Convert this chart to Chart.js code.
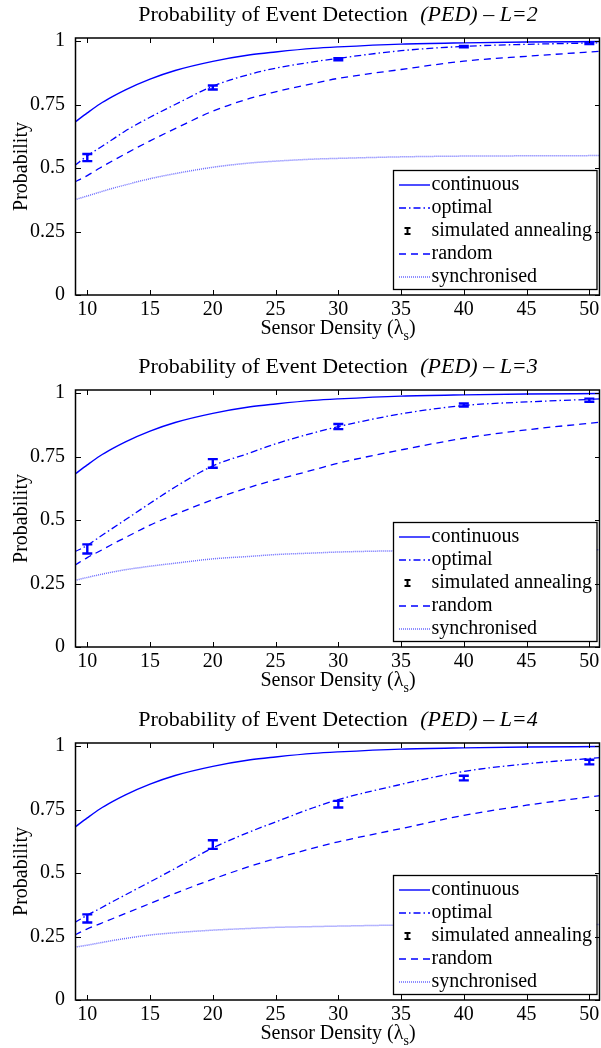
<!DOCTYPE html>
<html>
<head>
<meta charset="utf-8">
<script src="https://cdn.jsdelivr.net/npm/chart.js@4.4.1/dist/chart.umd.min.js"></script>
<style>
    html, body { margin: 0; padding: 0; background: #fff; overflow: hidden; }
    body { width: 601px; height: 1048px; position: relative; font-family: 'Liberation Serif', 'Times New Roman', serif; color: #000; }
    .panel { position: absolute; left: 0; width: 601px; }
    .panel canvas { position: absolute; left: 0; top: 0; }
    .titulo { position: absolute; left: 76px; width: 524px; top: 3px; text-align: center; font-size: 22px; line-height: 22px; white-space: nowrap; }
    .titulo i { margin-left: 7px; }
    .xlabel { position: absolute; left: 76px; width: 524px; top: 317px; text-align: center; font-size: 20px; line-height: 20px; white-space: nowrap; }
    .xlabel sub { font-size: 14px; vertical-align: -6px; line-height: 0; }
</style>
</head>
<body>

<div class="panel" style="top:0px;height:352px">
    <canvas id="chartL2" width="601" height="352"></canvas>
    <div class="titulo">Probability of Event Detection <i>(PED) – L=2</i></div>
    <div class="xlabel">Sensor Density (λ<sub>s</sub>)</div>
</div>
<div class="panel" style="top:352px;height:352px">
    <canvas id="chartL3" width="601" height="352"></canvas>
    <div class="titulo">Probability of Event Detection <i>(PED) – L=3</i></div>
    <div class="xlabel">Sensor Density (λ<sub>s</sub>)</div>
</div>
<div class="panel" style="top:705px;height:343px">
    <canvas id="chartL4" width="601" height="343"></canvas>
    <div class="titulo">Probability of Event Detection <i>(PED) – L=4</i></div>
    <div class="xlabel">Sensor Density (λ<sub>s</sub>)</div>
</div>

<script>
// sensor density where the curves were read
const density = [9, 10, 11, 12, 13, 15, 17, 20, 23, 25, 28, 30, 35, 40, 45, 51];
const continuous = [0.68, 0.717, 0.752, 0.781, 0.807, 0.85, 0.884, 0.92, 0.946, 0.957, 0.971, 0.977, 0.988, 0.993, 0.996, 0.998];

const optimalL2 = [0.51, 0.548, 0.58, 0.612, 0.645, 0.70, 0.75, 0.822, 0.87, 0.893, 0.918, 0.932, 0.962, 0.979, 0.987, 0.993];
const randomL2 = [0.445, 0.47, 0.50, 0.528, 0.555, 0.607, 0.655, 0.724, 0.775, 0.80, 0.833, 0.853, 0.888, 0.921, 0.94, 0.96];
const syncL2 = [0.375, 0.39, 0.405, 0.42, 0.433, 0.458, 0.478, 0.503, 0.52, 0.527, 0.535, 0.538, 0.544, 0.547, 0.548, 0.549];

const optimalL3 = [0.375, 0.40, 0.434, 0.467, 0.50, 0.566, 0.63, 0.713, 0.765, 0.80, 0.843, 0.868, 0.918, 0.951, 0.965, 0.977];
const randomL3 = [0.322, 0.352, 0.378, 0.405, 0.43, 0.48, 0.522, 0.58, 0.63, 0.658, 0.697, 0.724, 0.776, 0.822, 0.855, 0.886];
const syncL3 = [0.262, 0.274, 0.285, 0.295, 0.304, 0.318, 0.33, 0.347, 0.357, 0.364, 0.37, 0.374, 0.379, 0.381, 0.382, 0.383];

const optimalL4 = [0.305, 0.334, 0.36, 0.387, 0.413, 0.465, 0.518, 0.599, 0.663, 0.701, 0.757, 0.789, 0.849, 0.90, 0.93, 0.955];
const randomL4 = [0.256, 0.28, 0.30, 0.32, 0.34, 0.38, 0.42, 0.476, 0.527, 0.557, 0.598, 0.623, 0.675, 0.727, 0.767, 0.806];
const syncL4 = [0.208, 0.216, 0.225, 0.234, 0.242, 0.256, 0.265, 0.275, 0.282, 0.286, 0.289, 0.291, 0.295, 0.296, 0.297, 0.297];

// simulated annealing runs (mean and half error bar)
const saDensity = [10, 20, 30, 40, 50];
const saL2 = [0.541, 0.817, 0.928, 0.978, 0.991];
const saErrL2 = [0.014, 0.008, 0.004, 0.003, 0.003];
const saL3 = [0.386, 0.723, 0.868, 0.953, 0.972];
const saErrL3 = [0.018, 0.017, 0.01, 0.006, 0.006];
const saL4 = [0.321, 0.612, 0.771, 0.874, 0.937];
const saErrL4 = [0.016, 0.017, 0.013, 0.009, 0.009];

const xTicks = [10, 15, 20, 25, 30, 35, 40, 45, 50];
const yTicks = [0, 0.25, 0.5, 0.75, 1];
const yTickLabels = ['0', '0.25', '0.5', '0.75', '1'];

const FUENTE = '"Liberation Serif", "Times New Roman", serif';
const AZUL = '#0000ff';

document.addEventListener('DOMContentLoaded', function() {
    crearGrafico('chartL2', 352, optimalL2, randomL2, syncL2, saL2, saErrL2);
    crearGrafico('chartL3', 352, optimalL3, randomL3, syncL3, saL3, saErrL3);
    crearGrafico('chartL4', 343, optimalL4, randomL4, syncL4, saL4, saErrL4);
});

function pares(xs, ys) {
    return xs.map((x, i) => ({ x: x, y: ys[i] }));
}

// error bars, legend box, frame and inward ticks
const marco = {
    id: 'marco',
    afterDatasetsDraw(chart) {
        const ctx = chart.ctx;
        const x = chart.scales.x;
        const y = chart.scales.y;
        chart.data.datasets.forEach(ds => {
            if (!ds.errores) return;
            ctx.save();
            ctx.strokeStyle = AZUL;
            ctx.lineWidth = 2.4;
            ds.data.forEach((p, i) => {
                const px = x.getPixelForValue(p.x);
                const yt = y.getPixelForValue(p.y + ds.errores[i]);
                const yb = y.getPixelForValue(p.y - ds.errores[i]);
                ctx.beginPath();
                ctx.moveTo(px, yt);
                ctx.lineTo(px, yb);
                ctx.moveTo(px - 5, yt);
                ctx.lineTo(px + 5, yt);
                ctx.moveTo(px - 5, yb);
                ctx.lineTo(px + 5, yb);
                ctx.stroke();
            });
            ctx.restore();
        });
    },
    afterDraw(chart) {
        const ctx = chart.ctx;
        const area = chart.chartArea;
        const x = chart.scales.x;
        const y = chart.scales.y;

        // legend
        const lx = area.right - 207;
        const ly = area.top + 132;
        const lw = 203.5;
        const lh = 119;
        ctx.save();
        ctx.fillStyle = '#fff';
        ctx.fillRect(lx, ly, lw, lh);
        ctx.strokeStyle = '#000';
        ctx.lineWidth = 1.3;
        ctx.strokeRect(lx + 0.5, ly + 0.5, lw, lh);
        ctx.font = '20px ' + FUENTE;
        ctx.textBaseline = 'middle';
        chart.data.datasets.forEach((ds, i) => {
            const cy = ly + 15 + i * 23;
            if (ds.errores) {
                ctx.strokeStyle = '#000';
                ctx.lineWidth = 2;
                ctx.beginPath();
                ctx.moveTo(lx + 14.5, cy - 3);
                ctx.lineTo(lx + 14.5, cy + 3);
                ctx.moveTo(lx + 11.5, cy - 3);
                ctx.lineTo(lx + 17.5, cy - 3);
                ctx.moveTo(lx + 11.5, cy + 3);
                ctx.lineTo(lx + 17.5, cy + 3);
                ctx.stroke();
            } else {
                ctx.strokeStyle = ds.borderColor;
                ctx.lineWidth = ds.borderWidth;
                ctx.setLineDash(ds.borderDash || []);
                ctx.beginPath();
                ctx.moveTo(lx + 6, cy);
                ctx.lineTo(lx + 37, cy);
                ctx.stroke();
                ctx.setLineDash([]);
            }
            ctx.fillStyle = '#000';
            ctx.fillText(ds.label, lx + 38.5, cy);
        });

        // frame
        ctx.strokeStyle = '#000';
        ctx.lineWidth = 1.5;
        ctx.strokeRect(area.left - 0.5, area.top, area.right - area.left, area.bottom - area.top);

        // ticks pointing inwards on all four sides
        ctx.lineWidth = 1;
        ctx.beginPath();
        xTicks.forEach(v => {
            const px = Math.round(x.getPixelForValue(v)) + 0.5;
            ctx.moveTo(px, area.bottom);
            ctx.lineTo(px, area.bottom - 5);
            ctx.moveTo(px, area.top);
            ctx.lineTo(px, area.top + 5);
        });
        yTicks.forEach(v => {
            const py = Math.round(y.getPixelForValue(v)) + 0.5;
            ctx.moveTo(area.left, py);
            ctx.lineTo(area.left + 5, py);
            ctx.moveTo(area.right, py);
            ctx.lineTo(area.right - 5, py);
        });
        ctx.stroke();
        ctx.restore();
    }
};

function crearGrafico(id, alto, optimal, random, sync, sa, saErr) {
    const ctx = document.getElementById(id).getContext('2d');

    new Chart(ctx, {
        type: 'line',
        data: {
            datasets: [{
                label: 'continuous',
                data: pares(density, continuous),
                borderColor: AZUL,
                borderWidth: 1.4,
                borderDash: []
            }, {
                label: 'optimal',
                data: pares(density, optimal),
                borderColor: AZUL,
                borderWidth: 1.3,
                borderDash: [7, 3, 1.5, 3]
            }, {
                label: 'simulated annealing',
                data: pares(saDensity, sa),
                borderColor: AZUL,
                showLine: false,
                errores: saErr
            }, {
                label: 'random',
                data: pares(density, random),
                borderColor: AZUL,
                borderWidth: 1.3,
                borderDash: [7, 5]
            }, {
                label: 'synchronised',
                data: pares(density, sync),
                borderColor: '#6a6aff',
                borderWidth: 1.5,
                borderDash: [1, 1]
            }]
        },
        options: {
            responsive: false,
            animation: false,
            layout: {
                padding: { top: 38, right: 1, left: 0, bottom: 0 }
            },
            elements: {
                point: { radius: 0, hoverRadius: 0 },
                line: { cubicInterpolationMode: 'monotone', fill: false }
            },
            plugins: {
                legend: { display: false },
                tooltip: { enabled: false }
            },
            scales: {
                x: {
                    type: 'linear',
                    min: 9.1,
                    max: 50.85,
                    grid: { display: false },
                    border: { display: false },
                    afterBuildTicks: function(scale) {
                        scale.ticks = xTicks.map(v => ({ value: v }));
                    },
                    afterFit: function(scale) {
                        scale.height = alto - 295;
                    },
                    ticks: {
                        color: '#000',
                        font: { family: FUENTE, size: 20 },
                        padding: -5,
                        maxRotation: 0,
                        autoSkip: false
                    }
                },
                y: {
                    type: 'linear',
                    min: 0,
                    max: 1.012,
                    grid: { display: false },
                    border: { display: false },
                    afterBuildTicks: function(scale) {
                        scale.ticks = yTicks.map(v => ({ value: v }));
                    },
                    afterFit: function(scale) {
                        scale.width = 76;
                    },
                    ticks: {
                        color: '#000',
                        font: { family: FUENTE, size: 20 },
                        padding: 3,
                        callback: function(value, index) {
                            return yTickLabels[index];
                        }
                    },
                    title: {
                        display: true,
                        text: 'Probability',
                        color: '#000',
                        font: { family: FUENTE, size: 20 },
                        padding: { top: 10, bottom: 0 }
                    }
                }
            }
        },
        plugins: [marco]
    });
}
</script>
</body>
</html>
